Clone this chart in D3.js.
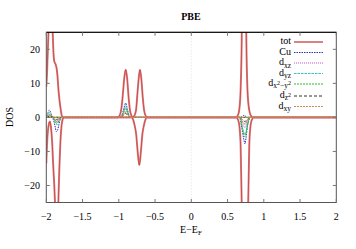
<!DOCTYPE html>
<html><head><meta charset="utf-8">
<script src="https://cdn.jsdelivr.net/npm/d3@7"></script>
<style>body{margin:0;background:#fff}svg{display:block}text{font-family:"Liberation Serif","DejaVu Serif",serif}</style>
</head><body><svg id="c" width="356" height="249"></svg>
<script>
const xTicks=[-2,-1.5,-1,-0.5,0,0.5,1,1.5,2];
const yTicks=[-20,-10,0,10,20];
const seriesNames=["tot","Cu","d_xz","d_yz","d_x2-y2","d_z2","d_xy"];
// [E, DOS] pairs, spin up and spin down
const totUp=[[-2,9],[-1.99,13],[-1.975,22],[-1.96,30],[-1.94,34],[-1.925,30],[-1.912,25],[-1.9,18.5],[-1.89,16.5],[-1.87,15.5],[-1.855,14],[-1.845,12],[-1.834,8.6],[-1.815,4.5],[-1.8,2.2],[-1.788,0.6],[-1.77,0],[-1.02,0],[-0.99,0.5],[-0.965,2.5],[-0.945,6.5],[-0.925,11.5],[-0.905,14],[-0.885,11.5],[-0.865,6],[-0.845,2],[-0.825,0.5],[-0.805,0],[-0.795,0.2],[-0.775,1],[-0.76,2.5],[-0.745,6.5],[-0.725,11.5],[-0.708,14],[-0.69,11.5],[-0.67,6],[-0.65,2],[-0.63,0.5],[-0.6,0],[0.62,0],[0.64,0.5],[0.66,2],[0.68,8],[0.695,22],[0.71,55],[0.727,90],[0.745,55],[0.758,25],[0.775,8],[0.8,2],[0.83,0.3],[0.855,0],[2,0]];
const totDn=[[-2,-13.5],[-1.99,-8],[-1.978,-4],[-1.965,-2],[-1.95,-1.2],[-1.935,-3],[-1.92,-7],[-1.905,-14],[-1.89,-20],[-1.88,-25],[-1.865,-35],[-1.857,-38],[-1.845,-34],[-1.834,-25],[-1.82,-15],[-1.805,-7],[-1.79,-2.5],[-1.775,-0.6],[-1.76,0],[-0.82,0],[-0.8,-0.8],[-0.78,-2.5],[-0.76,-5],[-0.74,-10],[-0.717,-14],[-0.695,-10],[-0.675,-5],[-0.655,-2.5],[-0.635,-0.8],[-0.61,0],[0.62,0],[0.64,-0.5],[0.66,-2],[0.68,-8],[0.695,-25],[0.715,-60],[0.74,-90],[0.765,-60],[0.785,-25],[0.8,-8],[0.82,-2],[0.84,-0.5],[0.86,0],[2,0]];
const cuUp=[[-2,0.5],[-1.98,1.2],[-1.96,2.1],[-1.945,1.8],[-1.93,0.8],[-1.915,0.1],[-1.9,0],[-1,0],[-0.96,0.5],[-0.935,2.2],[-0.905,4.2],[-0.88,2.2],[-0.855,0.4],[-0.83,0],[0.68,0],[0.7,0.3],[0.727,0.6],[0.75,0.3],[0.77,0],[2,0]];
const cuDn=[[-2,0],[-1.92,0],[-1.9,-0.8],[-1.88,-2.5],[-1.86,-4.2],[-1.845,-3.8],[-1.825,-2],[-1.805,-0.5],[-1.78,0],[0.66,0],[0.68,-1],[0.7,-3.5],[0.725,-6.5],[0.74,-7.8],[0.755,-6],[0.775,-2.5],[0.8,-0.5],[0.82,0],[2,0]];
const dxzUp=[[-2,0.2],[-1.98,0.5],[-1.955,0.8],[-1.93,0.4],[-1.91,0],[-1,0],[-0.96,0.3],[-0.935,1.3],[-0.905,2.5],[-0.88,1.3],[-0.855,0.2],[-0.83,0],[2,0]];
const dxzDn=[[-2,0],[-1.91,0],[-1.885,-0.6],[-1.86,-1.2],[-1.835,-0.8],[-1.81,-0.2],[-1.79,0],[0.67,0],[0.7,-1.5],[0.74,-3],[0.775,-1.2],[0.81,0],[2,0]];
const dyzUp=[[-2,0.3],[-1.98,0.9],[-1.955,1.4],[-1.93,0.7],[-1.91,0],[-1,0],[-0.96,0.4],[-0.935,1.8],[-0.905,3.5],[-0.88,1.8],[-0.855,0.3],[-0.83,0],[2,0]];
const dyzDn=[[-2,0],[-1.91,0],[-1.885,-1],[-1.855,-2.2],[-1.83,-1.4],[-1.805,-0.3],[-1.785,0],[0.67,0],[0.7,-2.5],[0.74,-5],[0.775,-2],[0.81,0],[2,0]];
const dx2Up=[[-2,0.2],[-1.98,0.6],[-1.955,0.9],[-1.93,0.45],[-1.91,0],[-1,0],[-0.96,0.3],[-0.935,1.5],[-0.905,2.8],[-0.88,1.5],[-0.855,0.2],[-0.83,0],[2,0]];
const dx2Dn=[[-2,0],[-1.91,0],[-1.885,-0.8],[-1.855,-1.8],[-1.83,-1.1],[-1.805,-0.2],[-1.785,0],[0.67,0],[0.7,-2.8],[0.74,-5.7],[0.775,-2.3],[0.81,0],[2,0]];
const dz2Up=[[-2,0.1],[-1.955,0.3],[-1.92,0.1],[-1.9,0],[-1,0],[-0.96,0.2],[-0.935,0.6],[-0.905,1.2],[-0.88,0.6],[-0.855,0.1],[-0.83,0],[2,0]];
const dz2Dn=[[-2,0],[-1.9,0],[-1.855,-0.6],[-1.81,0],[0.67,0],[0.7,-0.6],[0.74,-1.2],[0.775,-0.5],[0.81,0],[2,0]];
const dxyUp=[[-2,0.2],[-1.98,0.35],[-1.955,0.5],[-1.93,0.25],[-1.91,0],[-1,0],[-0.96,0.2],[-0.935,0.8],[-0.905,1.6],[-0.88,0.8],[-0.855,0.1],[-0.83,0],[2,0]];
const dxyDn=[[-2,0],[-1.91,0],[-1.885,-0.5],[-1.855,-1.2],[-1.83,-0.7],[-1.805,-0.1],[-1.785,0],[0.67,0],[0.7,-1],[0.74,-2],[0.775,-0.8],[0.81,0],[2,0]];

const svg=d3.select("#c");
const L=46.3,R=336.3,T=32.3,B=202.5;
const x=d3.scaleLinear().domain([-2,2]).range([L,R]);
const y=d3.scaleLinear().domain([-25,25]).range([B,T]);

svg.append("defs").append("clipPath").attr("id","clip").append("rect")
  .attr("x",L).attr("y",T).attr("width",R-L).attr("height",B-T);

svg.append("line").attr("x1",x(0)).attr("x2",x(0)).attr("y1",T).attr("y2",B)
  .attr("stroke","#ccc").attr("stroke-width",0.6).attr("stroke-dasharray","1,2");

const line=d3.line().x(d=>x(d[0])).y(d=>y(d[1])).curve(d3.curveMonotoneX);
const g=svg.append("g").attr("clip-path","url(#clip)");

const styles=[
 {up:totUp,dn:totDn,color:"#dc8484",w:2,dash:null,core:"#b80000"},
 {up:cuUp,dn:cuDn,color:"#3030a8",w:1,dash:"1.5,1"},
 {up:dxzUp,dn:dxzDn,color:"#d050d0",w:1,dash:"1,1"},
 {up:dyzUp,dn:dyzDn,color:"#30c8c8",w:1,dash:"2.5,1"},
 {up:dx2Up,dn:dx2Dn,color:"#30b830",w:1,dash:"2,1"},
 {up:dz2Up,dn:dz2Dn,color:"#303030",w:1,dash:"3,2"},
 {up:dxyUp,dn:dxyDn,color:"#c89050",w:1,dash:"2,1"}
];
[1,2,3,4,5,6,0].forEach(i=>{
  const s=styles[i];
  [s.up,s.dn].forEach(d=>{
    g.append("path").attr("d",line(d)).attr("fill","none").attr("stroke",s.color)
     .attr("stroke-width",s.w).attr("stroke-dasharray",s.dash);
    if(s.core) g.append("path").attr("d",line(d)).attr("fill","none").attr("stroke",s.core)
     .attr("stroke-width",0.6).attr("opacity",0.7);
  });
});
[dxyUp,dxyDn].forEach(d=>g.append("path").attr("d",line(d)).attr("fill","none")
  .attr("stroke","#c89050").attr("stroke-width",1).attr("stroke-dasharray","2,1").attr("opacity",0.7));

svg.append("rect").attr("x",L).attr("y",T).attr("width",R-L).attr("height",B-T)
  .attr("fill","none").attr("stroke","#555").attr("stroke-width",1);
svg.append("line").attr("x1",L).attr("x2",R).attr("y1",T).attr("y2",T).attr("stroke","#000");

const tk=3.5;
const ax=svg.append("g").attr("stroke","#777").attr("stroke-width",1);
xTicks.forEach(v=>{
  ax.append("line").attr("x1",x(v)).attr("x2",x(v)).attr("y1",B).attr("y2",B-tk);
  ax.append("line").attr("x1",x(v)).attr("x2",x(v)).attr("y1",T).attr("y2",T+tk);
});
yTicks.forEach(v=>{
  ax.append("line").attr("x1",L).attr("x2",L+tk).attr("y1",y(v)).attr("y2",y(v));
  ax.append("line").attr("x1",R).attr("x2",R-tk).attr("y1",y(v)).attr("y2",y(v));
});
const fmt=v=>String(v).replace("-","\u2212");
xTicks.forEach(v=>svg.append("text").attr("x",x(v)).attr("y",220).attr("text-anchor","middle")
  .attr("font-size",10).text(fmt(v)));
yTicks.forEach(v=>svg.append("text").attr("x",40).attr("y",y(v)+3.5).attr("text-anchor","end")
  .attr("font-size",10).text(fmt(v)));

svg.append("text").attr("x",191).attr("y",20).attr("text-anchor","middle").attr("font-size",10)
  .attr("font-weight","bold").text("PBE");
svg.append("text").attr("transform","translate(13,117) rotate(-90)").attr("text-anchor","middle")
  .attr("font-size",10).text("DOS");
const xl=svg.append("text").attr("x",191).attr("y",233).attr("text-anchor","middle").attr("font-size",10);
xl.append("tspan").text("E\u2212E");
xl.append("tspan").attr("font-size",7).attr("dy",2).text("F");

// legend: [text, absolute baseline offset, font size]
const lx=291;
const legLabels=[
 [["tot",0,10]],[["Cu",0,10]],
 [["d",0,10],["xz",2.5,7.5]],
 [["d",0,10],["yz",2.5,7.5]],
 [["d",0,10],["x",2,7.5],["2",-1,6],["\u2212y",2,7.5],["2",-1,6]],
 [["d",0,10],["z",2,7.5],["2",-1,6]],
 [["d",0,10],["xy",2.5,7.5]]
];
seriesNames.forEach((n,i)=>{
  const yy=42+i*10.5+(i>=5?1.5:0);
  const s=styles[i];
  const t=svg.append("text").attr("x",lx).attr("y",yy+2).attr("text-anchor","end");
  let cur=0;
  legLabels[i].forEach(p=>{
    const ts=t.append("tspan").attr("font-size",p[2]).text(p[0]);
    const dy=p[1]-cur; if(dy) ts.attr("dy",dy); cur=p[1];
  });
  svg.append("line").attr("x1",294).attr("x2",323).attr("y1",yy).attr("y2",yy)
    .attr("stroke",i===0?"#c84040":s.color).attr("stroke-width",i===0?1.3:1).attr("stroke-dasharray",s.dash);
});
</script></body></html>
